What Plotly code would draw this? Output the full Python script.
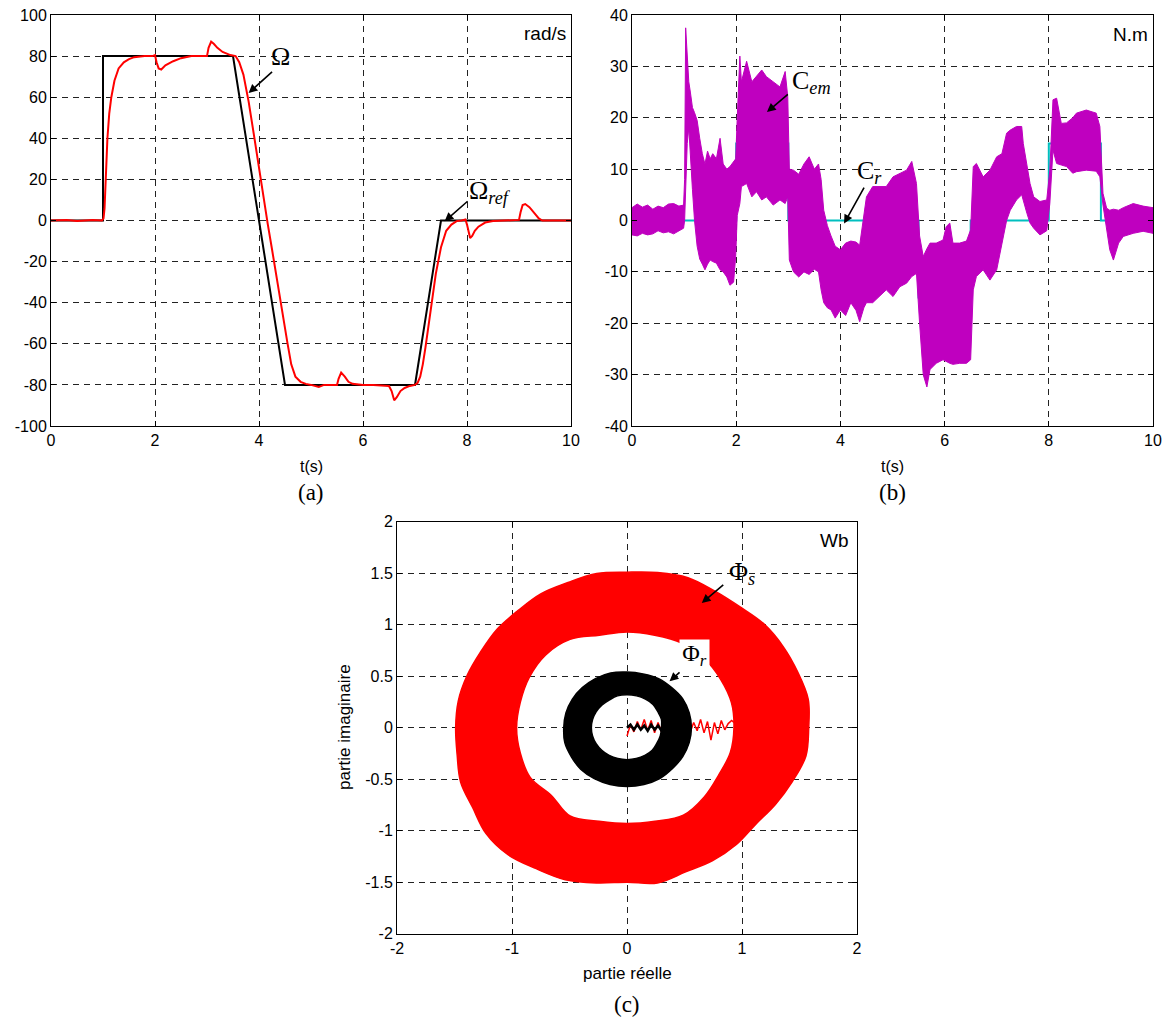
import numpy as np
import plotly.graph_objects as go

# ---------------- (a) speed ----------------
t_ref = [0, 1, 1, 3.5, 4.5, 7, 7.5, 10]
w_ref = [0, 0, 80, 80, -80, -80, 0, 0]

t_w = [0, 0.3, 0.5, 0.8, 0.98, 1.01, 1.03, 1.05, 1.085, 1.12, 1.16, 1.22, 1.3, 1.4, 1.5, 1.6, 1.8, 1.95,
       2.0, 2.03, 2.07, 2.12, 2.2, 2.35, 2.5, 2.7, 2.9, 3.0, 3.03, 3.08, 3.13, 3.2, 3.3, 3.45, 3.55, 3.62,
       3.7, 3.8, 3.9, 4.0, 4.1, 4.17, 4.25, 4.35, 4.45, 4.55, 4.62, 4.7, 4.8, 4.9, 5.0, 5.1, 5.15, 5.25,
       5.4, 5.5, 5.53, 5.58, 5.65, 5.72, 5.8, 6.0, 6.2, 6.4, 6.5, 6.55, 6.6, 6.65, 6.72, 6.8, 6.9, 7.0,
       7.05, 7.1, 7.15, 7.2, 7.3, 7.4, 7.5, 7.6, 7.7, 7.8, 7.9, 7.97, 8.0, 8.03, 8.06, 8.1, 8.15, 8.22,
       8.35, 8.5, 8.7, 8.9, 9.0, 9.03, 9.07, 9.12, 9.2, 9.3, 9.38, 9.45, 10]
w_meas = [0, 0.3, -0.2, 0.3, 0, 1, 6, 20, 40, 52, 60, 68, 74, 77, 78.5, 79.5, 80, 80,
          80.5, 77, 74, 73.5, 75.5, 77.5, 79, 80, 80, 80, 84, 87, 86, 84, 82, 80.5, 80, 77,
          71, 58, 42, 25, 9, -2, -14, -30, -46, -60, -70, -76, -78.5, -79.5, -80, -80.5, -81, -80,
          -80, -80, -77, -74, -76, -78.5, -79.5, -80, -80, -80.3, -80.5, -83, -87.5, -86, -83, -81.5, -80.5, -80,
          -79, -76, -70, -62, -44, -26, -13, -5, -2, -0.3, 0, 0.5, -2, -6, -8.5, -7.5, -5, -3,
          -1, -0.3, 0, 0, 0.3, 4, 7.5, 8, 6.5, 3.5, 1, 0, 0]

# ---------------- (b) torque ----------------
t_cr = [0, 2, 2, 3, 3, 5.5, 5.5, 6.5, 6.5, 8, 8, 9, 9, 10]
c_r = [0, 0, 15, 15, 0, 0, -15, -15, 0, 0, 15, 15, 0, 0]

t_cem = [0.00, 0.10, 0.20, 0.30, 0.40, 0.50, 0.60, 0.70, 0.80, 0.90, 0.99, 1.01, 1.03, 1.06, 1.09, 1.12,
         1.16, 1.20, 1.25, 1.30, 1.35, 1.40, 1.45, 1.50, 1.55, 1.62, 1.69, 1.75, 1.82, 1.88, 1.95, 1.99,
         2.02, 2.07, 2.10, 2.20, 2.30, 2.39, 2.49, 2.58, 2.71, 2.84, 2.94, 2.99, 3.02, 3.10, 3.20, 3.30,
         3.40, 3.50, 3.58, 3.63, 3.68, 3.75, 3.82, 3.90, 4.00, 4.10, 4.20, 4.30, 4.37, 4.45, 4.50, 4.62,
         4.75, 4.88, 5.01, 5.14, 5.27, 5.37, 5.46, 5.52, 5.59, 5.66, 5.72, 5.84, 5.97, 6.03, 6.10, 6.16,
         6.29, 6.42, 6.50, 6.55, 6.61, 6.74, 6.87, 7.00, 7.10, 7.19, 7.26, 7.38, 7.48, 7.51, 7.58, 7.64,
         7.71, 7.83, 7.96, 8.02, 8.08, 8.15, 8.24, 8.34, 8.46, 8.53, 8.72, 8.91, 8.98, 9.04, 9.11, 9.17,
         9.24, 9.34, 9.43, 9.62, 9.81, 10.00]
cem_up = [2.5, 3.2, 2.6, 3.0, 2.2, 2.8, 2.5, 3.2, 3.3, 2.8, 3.0, 8.0, 37.5, 33.0, 27.0, 25.0,
          22.0, 21.0, 19.5, 16.0, 13.0, 11.0, 13.5, 12.0, 13.0, 12.0, 16.0, 11.0, 10.0, 10.5, 11.5, 12.0,
          20.0, 32.0, 27.0, 31.0, 27.0, 28.0, 29.3, 28.0, 27.0, 26.0, 29.0, 24.0, 10.0, 9.8, 9.0, 11.0,
          12.4, 10.0, 11.0, 8.0, 2.0, -1.0, -3.0, -5.0, -5.7, -4.4, -4.0, -4.2, -4.8, 0.7, 4.6, 6.6,
          6.6, 6.6, 8.5, 9.2, 9.8, 11.5, 7.2, -3.0, -7.0, -5.5, -4.4, -4.4, -3.8, -1.2, -0.5, -4.4,
          -4.4, -4.0, -1.8, 10.5, 11.1, 8.5, 9.8, 12.4, 13.0, 17.0, 17.6, 18.3, 18.3, 15.0, 10.5, 7.2,
          4.6, 3.7, 4.0, 9.8, 23.5, 23.8, 18.9, 19.0, 20.0, 20.9, 21.5, 20.9, 18.3, 5.3, 2.4, 2.0,
          2.2, 2.0, 2.5, 3.3, 2.8, 2.5]
cem_lo = [-2.8, -3.0, -2.5, -2.8, -2.6, -2.0, -2.4, -2.2, -2.6, -2.0, -1.5, 0.0, 6.0, 15.0, 18.0, 14.0,
          6.0, 0.0, -5.0, -7.5, -8.5, -9.6, -8.5, -7.7, -8.0, -8.3, -9.6, -10.0, -11.0, -12.6, -12.0, -7.0,
          1.0, 3.3, 6.6, 7.2, 4.6, 5.6, 4.0, 4.6, 3.0, 4.0, 3.3, 4.6, -7.7, -10.0, -11.0, -10.0,
          -10.5, -9.5, -10.0, -13.5, -16.0, -17.0, -17.4, -19.0, -17.4, -18.5, -16.0, -17.5, -19.7, -17.0, -16.0, -16.0,
          -14.8, -13.5, -14.8, -12.9, -12.2, -10.9, -10.3, -20.0, -30.0, -32.4, -29.0, -27.8, -27.1, -27.5, -27.8, -28.0,
          -27.8, -27.8, -27.1, -13.5, -10.9, -9.6, -11.6, -9.6, -4.4, 0.0, 2.0, 4.0, 5.0, 4.0, 1.4, -0.5,
          -1.5, -2.8, -2.0, 3.3, 13.7, 11.1, 10.8, 10.5, 9.2, 9.5, 9.8, 9.6, 8.5, 3.0, -2.0, -5.7,
          -7.7, -4.4, -3.1, -2.5, -2.1, -2.5]

# ---------------- (c) flux trajectories ----------------
ang_s_out = [0, 10, 20, 30, 40, 50, 60, 70, 80, 90, 100, 110, 120, 130, 140, 150, 160, 170,
             180, 190, 200, 210, 220, 230, 240, 250, 260, 270, 280, 290, 300, 310, 320, 330, 340, 350]
r_s_out = [1.58, 1.60, 1.58, 1.57, 1.56, 1.53, 1.53, 1.55, 1.53, 1.51, 1.52, 1.50, 1.50, 1.48, 1.48, 1.47, 1.48, 1.49,
           1.49, 1.50, 1.54, 1.55, 1.60, 1.61, 1.58, 1.57, 1.53, 1.50, 1.53, 1.49, 1.49, 1.48, 1.46, 1.49, 1.53, 1.58]
ang_s_in = [0, 15, 30, 45, 60, 75, 90, 105, 120, 135, 150, 165,
            180, 195, 210, 225, 240, 255, 270, 285, 300, 315, 330, 345]
r_s_in = [0.93, 0.94, 0.94, 0.95, 0.95, 0.93, 0.93, 0.93, 0.99, 1.00, 0.98, 0.96,
          0.96, 0.96, 0.97, 0.93, 0.99, 0.94, 0.93, 0.94, 0.98, 0.95, 0.92, 0.93]
ang_r = [0, 15, 30, 45, 60, 75, 90, 105, 120, 135, 150, 165,
         180, 195, 210, 225, 240, 255, 270, 285, 300, 315, 330, 345]
r_r_out = [0.56, 0.56, 0.56, 0.55, 0.55, 0.54, 0.54, 0.55, 0.55, 0.55, 0.55, 0.55,
           0.55, 0.56, 0.56, 0.57, 0.57, 0.57, 0.57, 0.57, 0.57, 0.56, 0.56, 0.56]
r_r_in = [0.30, 0.31, 0.31, 0.32, 0.32, 0.32, 0.32, 0.32, 0.31, 0.31, 0.31, 0.31,
          0.31, 0.31, 0.31, 0.31, 0.31, 0.31, 0.31, 0.31, 0.31, 0.31, 0.30, 0.30]

zig_red_x = [0.00, 0.03, 0.06, 0.09, 0.12, 0.15, 0.18, 0.21, 0.24, 0.27, 0.30, 0.33, 0.36, 0.40, 0.45,
             0.50, 0.55, 0.58, 0.61, 0.64, 0.67, 0.70, 0.73, 0.76, 0.79, 0.82, 0.85, 0.88, 0.91, 0.93]
zig_red_y = [-0.08, 0.03, -0.04, 0.06, -0.02, 0.08, -0.03, 0.07, -0.05, 0.05, -0.04, 0.03, -0.03, 0.04, -0.03,
             0.03, -0.04, 0.05, -0.03, 0.08, -0.05, 0.06, -0.12, 0.05, -0.06, 0.07, -0.02, 0.04, 0.07, 0.05]
zig_blk_x = [0.00, 0.03, 0.06, 0.09, 0.12, 0.15, 0.18, 0.21, 0.24, 0.27, 0.30, 0.33]
zig_blk_y = [0.00, 0.03, -0.02, 0.03, -0.02, 0.02, -0.03, 0.03, -0.02, 0.02, -0.03, 0.00]

W, H = 1172, 1023
RED = "#FF0000"
MAG = "#BF00BF"
CYAN = "#00BFBF"


def ring_path(ang_out, r_out, ang_in, r_in):
    ao = np.deg2rad(list(ang_out) + [ang_out[0] + 360])
    ro = np.array(list(r_out) + [r_out[0]])
    ai = np.deg2rad(list(ang_in) + [ang_in[0] + 360])[::-1]
    ri = np.array(list(r_in) + [r_in[0]])[::-1]
    xs = list(ro * np.cos(ao)) + [None] + list(ri * np.cos(ai))
    ys = list(ro * np.sin(ao)) + [None] + list(ri * np.sin(ai))
    return xs, ys


fig = go.Figure()

# (a)
fig.add_trace(go.Scatter(x=t_ref, y=w_ref, mode="lines", line=dict(color="black", width=2),
                         xaxis="x", yaxis="y", showlegend=False))
fig.add_trace(go.Scatter(x=t_w, y=w_meas, mode="lines", line=dict(color=RED, width=2),
                         xaxis="x", yaxis="y", showlegend=False))

# (b)
fig.add_trace(go.Scatter(x=t_cr, y=c_r, mode="lines", line=dict(color=CYAN, width=2),
                         xaxis="x2", yaxis="y2", showlegend=False))
fig.add_trace(go.Scatter(x=t_cem + t_cem[::-1], y=cem_up + cem_lo[::-1], mode="lines",
                         fill="toself", fillcolor=MAG, line=dict(color=MAG, width=1),
                         xaxis="x2", yaxis="y2", showlegend=False))

# (c)
xs, ys = ring_path(ang_s_out, r_s_out, ang_s_in, r_s_in)
fig.add_trace(go.Scatter(x=xs, y=ys, mode="lines", fill="toself", fillcolor=RED,
                         line=dict(color=RED, width=1.5, shape="spline"),
                         xaxis="x3", yaxis="y3", showlegend=False))
fig.add_trace(go.Scatter(x=zig_red_x, y=zig_red_y, mode="lines", line=dict(color=RED, width=1.5),
                         xaxis="x3", yaxis="y3", showlegend=False))
xs, ys = ring_path(ang_r, r_r_out, ang_r, r_r_in)
fig.add_trace(go.Scatter(x=xs, y=ys, mode="lines", fill="toself", fillcolor="black",
                         line=dict(color="black", width=1.5, shape="spline"),
                         xaxis="x3", yaxis="y3", showlegend=False))
fig.add_trace(go.Scatter(x=zig_blk_x, y=zig_blk_y, mode="lines", line=dict(color="black", width=2.5),
                         xaxis="x3", yaxis="y3", showlegend=False))

TICKFONT = dict(family="Liberation Sans, Arial", size=16, color="black")


def ax_style(rng, vals, dom, anchor):
    return dict(range=rng, domain=dom, anchor=anchor, tickvals=vals,
                ticktext=[("%g" % v) for v in vals], automargin=False,
                showgrid=True, gridcolor="#222", griddash="6px,5px", gridwidth=1,
                zeroline=False, showline=True, linecolor="black", linewidth=1, mirror="allticks",
                ticks="inside", ticklen=5, tickcolor="black", tickfont=TICKFONT, fixedrange=True)


def px_x(p):
    return p / W


def px_y(p):
    return 1 - p / H


xa = ax_style([0, 10], [0, 2, 4, 6, 8, 10], [px_x(51), px_x(571)], "y")
ya = ax_style([-100, 100], list(range(-100, 101, 20)), [px_y(426), px_y(15)], "x")
xb = ax_style([0, 10], [0, 2, 4, 6, 8, 10], [px_x(632), px_x(1153)], "y2")
yb = ax_style([-40, 40], list(range(-40, 41, 10)), [px_y(426), px_y(15)], "x2")
xc = ax_style([-2, 2], [-2, -1, 0, 1, 2], [px_x(397), px_x(857)], "y3")
yc = ax_style([-2, 2], [-2, -1.5, -1, -0.5, 0, 0.5, 1, 1.5, 2], [px_y(933.7), px_y(521.7)], "x3")

SERIF = "Liberation Serif, Times New Roman"
SANS = "Liberation Sans, Arial"
ann = []


def txt(text, x, y, xref, yref, size=26, family=SERIF, xanchor="center", **kw):
    ann.append(dict(text=text, x=x, y=y, xref=xref, yref=yref, showarrow=False,
                    xanchor=xanchor, yanchor="middle",
                    font=dict(family=family, size=size, color="black"), **kw))


def arrow(xh, yh, xt, yt, xref, yref):
    ann.append(dict(text="", x=xh, y=yh, ax=xt, ay=yt, xref=xref, yref=yref, axref=xref, ayref=yref,
                    showarrow=True, arrowhead=2, arrowsize=1.1, arrowwidth=1.6, arrowcolor="black",
                    standoff=0, startstandoff=0))


# (a) annotations
txt("\u03a9", 4.42, 80, "x", "y")
arrow(3.8, 62, 4.28, 73, "x", "y")
txt("\u03a9<sub><i>ref</i></sub>", 8.45, 14, "x", "y")
arrow(7.57, -0.4, 8.04, 10, "x", "y")
txt("rad/s", 9.95, 91, "x", "y", size=19, family=SANS, xanchor="right")
# (b) annotations
txt("C<sub><i>em</i></sub>", 3.45, 27, "x2", "y2")
arrow(2.59, 21.1, 3.02, 24.8, "x2", "y2")
txt("C<sub><i>r</i></sub>", 4.55, 9.5, "x2", "y2")
arrow(4.07, -0.6, 4.47, 6.7, "x2", "y2")
txt("N.m", 9.95, 36.3, "x2", "y2", size=19, family=SANS, xanchor="right")
# (c) annotations
txt("\u03a6<sub><i>s</i></sub>", 1.0, 1.5, "x3", "y3")
arrow(0.65, 1.21, 0.85, 1.40, "x3", "y3")
ann.append(dict(text="\u03a6<sub><i>r</i></sub>", x=0.585, y=0.705, xref="x3", yref="y3", showarrow=False,
                bgcolor="white", width=29, height=30, borderpad=0,
                font=dict(family=SERIF, size=24, color="black")))
arrow(0.37, 0.45, 0.47, 0.55, "x3", "y3")
txt("Wb", 1.95, 1.82, "x3", "y3", size=19, family=SANS, xanchor="right")

# axis titles and panel labels
txt("t(s)", px_x(311), px_y(466), "paper", "paper", size=16, family=SANS)
txt("t(s)", px_x(892), px_y(466), "paper", "paper", size=16, family=SANS)
txt("(a)", px_x(311), px_y(492), "paper", "paper", size=23)
txt("(b)", px_x(892), px_y(492), "paper", "paper", size=23)
txt("partie réelle", px_x(627), px_y(973), "paper", "paper", size=17, family=SANS)
txt("(c)", px_x(627), px_y(1004), "paper", "paper", size=23)
txt("partie imaginaire", px_x(344), px_y(727), "paper", "paper", size=17, family=SANS, textangle=-90)

fig.update_layout(template="none", width=W, height=H, margin=dict(l=0, r=0, t=0, b=0, autoexpand=False),
                  paper_bgcolor="white", plot_bgcolor="white",
                  xaxis=xa, yaxis=ya, xaxis2=xb, yaxis2=yb, xaxis3=xc, yaxis3=yc,
                  annotations=ann, showlegend=False)

fig.write_html("out.html", config={"displayModeBar": False},
               post_script="document.body.style.margin='0';document.body.style.padding='0';")
